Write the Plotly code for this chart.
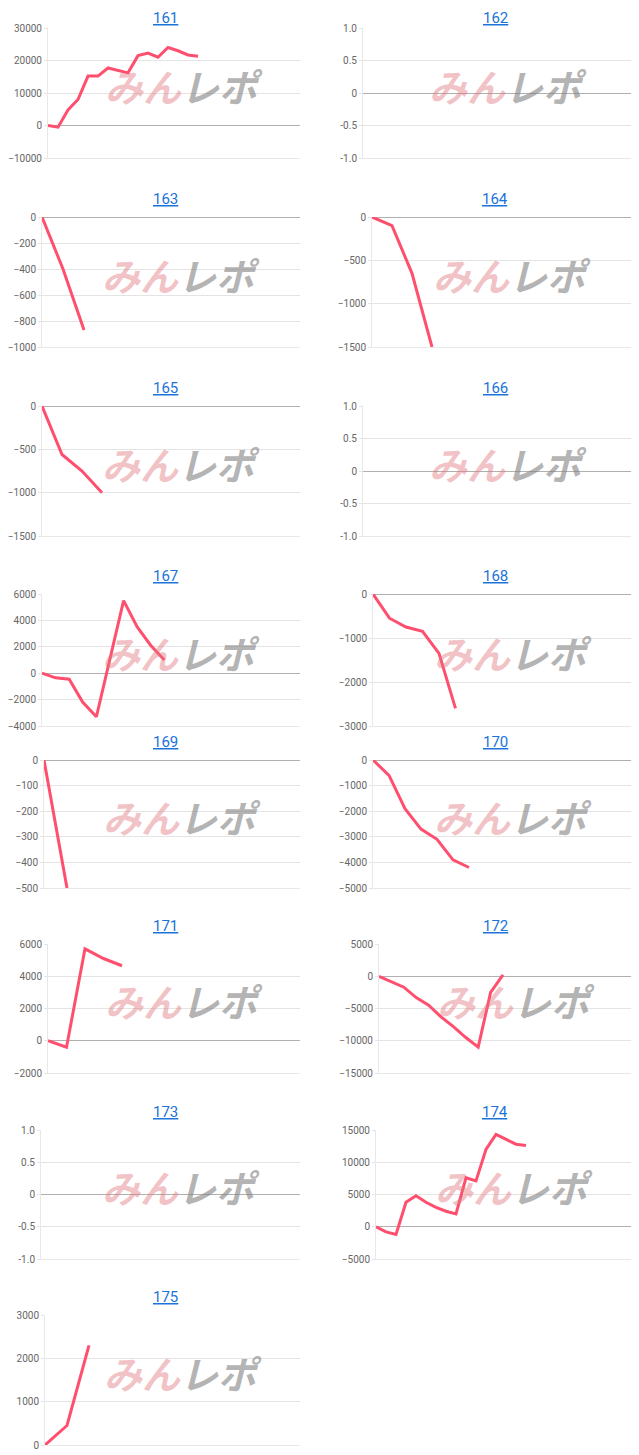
import plotly.graph_objects as go

W, H = 639, 1455
OFF = 8  # ページ余白ぶんのずれ

# 各グラフの値
names = ["161", "162", "163", "164", "165", "166", "167", "168",
         "169", "170", "171", "172", "173", "174", "175"]
v161 = [0, -500, 4800, 8000, 15200, 15200, 17700, 17000, 16200, 21500, 22300, 21000, 24000, 23000, 21700, 21300]
v162 = []
v163 = [0, -400, -870]
v164 = [0, -100, -650, -1500]
v165 = [0, -560, -750, -1000]
v166 = []
v167 = [0, -350, -450, -2200, -3300, 1000, 5500, 3500, 2100, 1000]
v168 = [0, -550, -750, -850, -1350, -2600]
v169 = [0, -500]
v170 = [0, -600, -1900, -2700, -3100, -3900, -4200]
v171 = [0, -400, 5700, 5100, 4650]
v172 = [0, -800, -1700, -3300, -4500, -6300, -7800, -9500, -11000, -2500, 200]
v173 = []
v174 = [0, -800, -1200, 3800, 4800, 3800, 3000, 2400, 2000, 7600, 7100, 12000, 14300, 13500, 12800, 12600]
v175 = [0, 450, 2300]
values = [v161, v162, v163, v164, v165, v166, v167, v168,
          v169, v170, v171, v172, v173, v174, v175]

# y軸の範囲と目盛間隔
y_ranges = [(-10000, 30000), (-1, 1), (-1000, 0), (-1500, 0), (-1500, 0), (-1, 1),
            (-4000, 6000), (-3000, 0), (-500, 0), (-5000, 0), (-2000, 6000),
            (-15000, 5000), (-1, 1), (-5000, 15000), (0, 3000)]
y_dticks = [10000, 0.5, 200, 500, 500, 0.5, 2000, 1000, 100, 1000, 2000, 5000, 0.5, 5000, 1000]
empty_tickvals = [-1, -0.5, 0, 0.5, 1]
empty_ticktext = ["-1.0", "-0.5", "0", "0.5", "1.0"]

# レイアウト (ピクセル)
row_top = [28, 217, 406, 594, 760, 944, 1130, 1315]
row_bot = [158, 347, 536, 726, 888, 1073, 1259, 1445]
plot_left = [48, 363, 42, 372, 42, 363, 42, 373, 44, 373, 48, 379, 41, 376, 45]
x_step = [10, 10, 21, 20, 20, 20, 13.6, 16.5, 23, 16, 18.5, 12.4, 20, 10, 22]
col_right = [300, 632]

RED = "#ff4f6f"
fig = go.Figure()
annotations = []


def px(v):
    return (v - OFF) / W


def py(v):
    return 1 - (v - OFF) / H


for i, name in enumerate(names):
    r, c = divmod(i, 2)
    k = i + 1
    xa = "x" if k == 1 else f"x{k}"
    ya = "y" if k == 1 else f"y{k}"
    left = plot_left[i]
    right = col_right[c]
    top, bot = row_top[r], row_bot[r]
    vals = values[i]
    fig.add_trace(go.Scatter(
        x=list(range(len(vals))), y=vals, mode="lines",
        line=dict(color=RED, width=3), xaxis=xa, yaxis=ya, showlegend=False,
        hoverinfo="skip"))
    xmax = (right - left) / x_step[i]
    fig.layout[f"xaxis{k}" if k > 1 else "xaxis"] = dict(
        domain=[px(left), px(right)], range=[0, xmax], showticklabels=False,
        showgrid=False, zeroline=False, showline=True, linecolor="#e8e8e8",
        anchor=ya, fixedrange=True, automargin=False)
    yax = dict(
        domain=[py(bot), py(top)], range=list(y_ranges[i]),
        dtick=y_dticks[i], tickformat="d", gridcolor="#e4e4e4",
        zeroline=True, zerolinecolor="#b0b0b0", zerolinewidth=1,
        showline=True, linecolor="#e8e8e8", tickfont=dict(size=10, color="#666"),
        ticks="outside", ticklen=3, tickcolor="#e4e4e4",
        anchor=xa, fixedrange=True, automargin=False)
    if not vals:
        yax.update(tickmode="array", tickvals=empty_tickvals, ticktext=empty_ticktext)
    fig.layout[f"yaxis{k}" if k > 1 else "yaxis"] = yax
    cx = 165 if c == 0 else 495
    annotations.append(dict(
        x=px(cx), y=py(max(top - 18, 18)), xref="paper", yref="paper",
        xanchor="center", yanchor="middle",
        text=f"<u>{name}</u>", showarrow=False,
        font=dict(size=15, color="#1a73d9", family="Roboto")))
    wx = (left + right) / 2 + 10
    wy = top + (bot - top) * 0.44
    annotations.append(dict(
        x=px(wx), y=py(wy), xref="paper", yref="paper", showarrow=False,
        xanchor="center", yanchor="middle",
        text="<b><i><span style='color:rgba(226,120,125,0.45)'>みん</span>"
             "<span style='color:rgba(130,130,130,0.6)'>レポ</span></i></b>",
        font=dict(size=38, family="Noto Sans CJK JP")))

fig.update_layout(
    width=W, height=H, margin=dict(l=0, r=0, t=0, b=0),
    plot_bgcolor="white", paper_bgcolor="white",
    font=dict(family="Roboto"), annotations=annotations)

fig.write_html("out.html")
